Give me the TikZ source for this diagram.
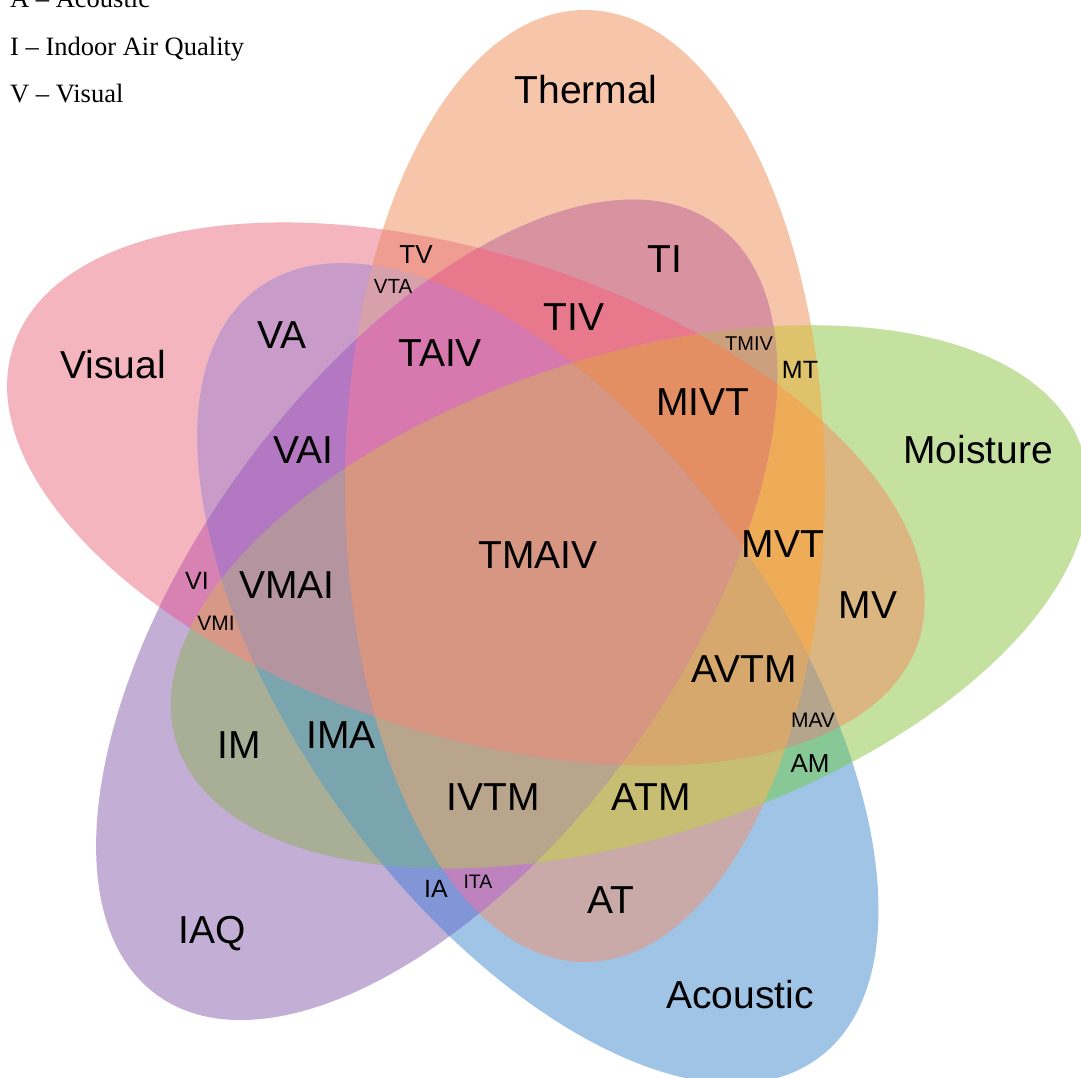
\documentclass[tikz,border=0pt]{standalone}
\usepackage{fontspec}
\setmainfont{Liberation Serif}
\setsansfont{Liberation Sans}
% colours of the exact regions
\definecolor{cT}{RGB}{247,198,170}
\definecolor{cV}{RGB}{244,181,190}
\definecolor{cM}{RGB}{197,225,160}
\definecolor{cA}{RGB}{160,196,230}
\definecolor{cI}{RGB}{195,174,214}
\definecolor{cTV}{RGB}{240,157,145}
\definecolor{cTI}{RGB}{217,147,160}
\definecolor{cTM}{RGB}{222,195,108}
\definecolor{cTA}{RGB}{201,170,168}
\definecolor{cVI}{RGB}{216,130,180}
\definecolor{cVM}{RGB}{220,182,128}
\definecolor{cVA}{RGB}{200,155,200}
\definecolor{cIM}{RGB}{168,175,150}
\definecolor{cIA}{RGB}{130,150,215}
\definecolor{cMA}{RGB}{135,200,150}
\definecolor{cTVI}{RGB}{232,120,140}
\definecolor{cTVM}{RGB}{238,172,88}
\definecolor{cTVA}{RGB}{215,160,170}
\definecolor{cTIM}{RGB}{205,160,125}
\definecolor{cTIA}{RGB}{190,130,190}
\definecolor{cTMA}{RGB}{200,190,115}
\definecolor{cVIM}{RGB}{215,152,135}
\definecolor{cVIA}{RGB}{180,120,195}
\definecolor{cVMA}{RGB}{180,165,140}
\definecolor{cIMA}{RGB}{122,165,175}
\definecolor{cTVIM}{RGB}{228,142,100}
\definecolor{cTVIA}{RGB}{215,120,175}
\definecolor{cTVMA}{RGB}{215,168,110}
\definecolor{cTIMA}{RGB}{185,165,140}
\definecolor{cVIMA}{RGB}{180,148,158}
\definecolor{cTVIMA}{RGB}{214,150,130}
% ellipse paths
\def\ellT{(585,486) ellipse [x radius=240, y radius=476]}
\def\ellV{(465.9,494) ellipse [x radius=476, y radius=240]}
\def\ellM{(629.5,596.8) ellipse [x radius=476, y radius=240]}
\def\ellA{(537.9,673.4) ellipse [x radius=476, y radius=240]}
\def\ellI{(436.7,609.8) ellipse [x radius=476, y radius=240]}
\def\kT{\clip[rT]\ellT;}
\def\kV{\clip[rV]\ellV;}
\def\kM{\clip[rM]\ellM;}
\def\kA{\clip[rA]\ellA;}
\def\kI{\clip[rI]\ellI;}
\def\fT#1{\fill[#1,rT]\ellT;}
\def\fV#1{\fill[#1,rV]\ellV;}
\def\fM#1{\fill[#1,rM]\ellM;}
\def\fA#1{\fill[#1,rA]\ellA;}
\def\fI#1{\fill[#1,rI]\ellI;}
\begin{document}
\begin{tikzpicture}[x=1pt,y=-1pt,
  rT/.style={},
  rV/.style={rotate around={-18:(465.9,494)}},
  rM/.style={rotate around={18:(629.5,596.8)}},
  rA/.style={rotate around={-54:(537.9,673.4)}},
  rI/.style={rotate around={54:(436.7,609.8)}},
  lab/.style={font=\fontsize{#1}{#1}\sffamily, text=black, inner sep=0pt, anchor=base},
  lab/.default=39,
  legend/.style={font=\fontsize{26.5}{28}\rmfamily, text=black, inner sep=0pt, anchor=base west}]
\useasboundingbox (0,0) rectangle (1081,1077);
\fill[white] (0,0) rectangle (1081,1077);
\clip (0,0) rectangle (1081,1077);
% single sets
\fT{cT} \fV{cV} \fM{cM} \fA{cA} \fI{cI}
% pairs
\begin{scope}\kT\fV{cTV}\end{scope}
\begin{scope}\kT\fI{cTI}\end{scope}
\begin{scope}\kT\fM{cTM}\end{scope}
\begin{scope}\kT\fA{cTA}\end{scope}
\begin{scope}\kV\fI{cVI}\end{scope}
\begin{scope}\kV\fM{cVM}\end{scope}
\begin{scope}\kV\fA{cVA}\end{scope}
\begin{scope}\kI\fM{cIM}\end{scope}
\begin{scope}\kI\fA{cIA}\end{scope}
\begin{scope}\kM\fA{cMA}\end{scope}
% triples
\begin{scope}\kT\kV\fI{cTVI}\end{scope}
\begin{scope}\kT\kV\fM{cTVM}\end{scope}
\begin{scope}\kT\kV\fA{cTVA}\end{scope}
\begin{scope}\kT\kI\fM{cTIM}\end{scope}
\begin{scope}\kT\kI\fA{cTIA}\end{scope}
\begin{scope}\kT\kM\fA{cTMA}\end{scope}
\begin{scope}\kV\kI\fM{cVIM}\end{scope}
\begin{scope}\kV\kI\fA{cVIA}\end{scope}
\begin{scope}\kV\kM\fA{cVMA}\end{scope}
\begin{scope}\kI\kM\fA{cIMA}\end{scope}
% quadruples
\begin{scope}\kT\kV\kI\fM{cTVIM}\end{scope}
\begin{scope}\kT\kV\kI\fA{cTVIA}\end{scope}
\begin{scope}\kT\kV\kM\fA{cTVMA}\end{scope}
\begin{scope}\kT\kI\kM\fA{cTIMA}\end{scope}
\begin{scope}\kV\kI\kM\fA{cVIMA}\end{scope}
% all five
\begin{scope}\kT\kV\kI\kM\fA{cTVIMA}\end{scope}
% legend
\node[legend] (legA) at (10,7.5) {A – Acoustic};
\node[legend] (legI) at (10,55) {I – Indoor Air Quality};
\node[legend] (legV) at (10,102) {V – Visual};
% set names
\node[lab] (nT) at (586,103) {Thermal};
\node[lab] (nV) at (113,378) {Visual};
\node[lab] (nM) at (978,463) {Moisture};
\node[lab] (nI) at (212,943) {IAQ};
\node[lab] (nA) at (740,1008) {Acoustic};
% region labels
\node[lab] (rTMAIV) at (538,568) {TMAIV};
\node[lab] (rTI) at (665,272) {TI};
\node[lab] (rTIV) at (574,330) {TIV};
\node[lab] (rTAIV) at (440,366) {TAIV};
\node[lab] (rVA) at (282,348) {VA};
\node[lab] (rVAI) at (303,463) {VAI};
\node[lab] (rVMAI) at (287,598) {VMAI};
\node[lab] (rMIVT) at (703,415) {MIVT};
\node[lab] (rMVT) at (783,557) {MVT};
\node[lab] (rMV) at (868,618) {MV};
\node[lab] (rAVTM) at (744,682) {AVTM};
\node[lab] (rIM) at (239,758) {IM};
\node[lab] (rIMA) at (341,748) {IMA};
\node[lab] (rIVTM) at (493,810) {IVTM};
\node[lab] (rATM) at (651,810) {ATM};
\node[lab] (rAT) at (611,913) {AT};
% small labels
\node[lab=26] (rTV) at (416,263) {TV};
\node[lab=20.5] (rVTA) at (393,293) {VTA};
\node[lab=20] (rTMIV) at (749,350) {TMIV};
\node[lab=25] (rMT) at (800,378) {MT};
\node[lab=25] (rVI) at (197,589) {VI};
\node[lab=21] (rVMI) at (216,630) {VMI};
\node[lab=21] (rMAV) at (813,727) {MAV};
\node[lab=26] (rAM) at (810,772) {AM};
\node[lab=25] (rIA) at (436,897) {IA};
\node[lab=19.5] (rITA) at (478,888) {ITA};
\end{tikzpicture}
\end{document}
